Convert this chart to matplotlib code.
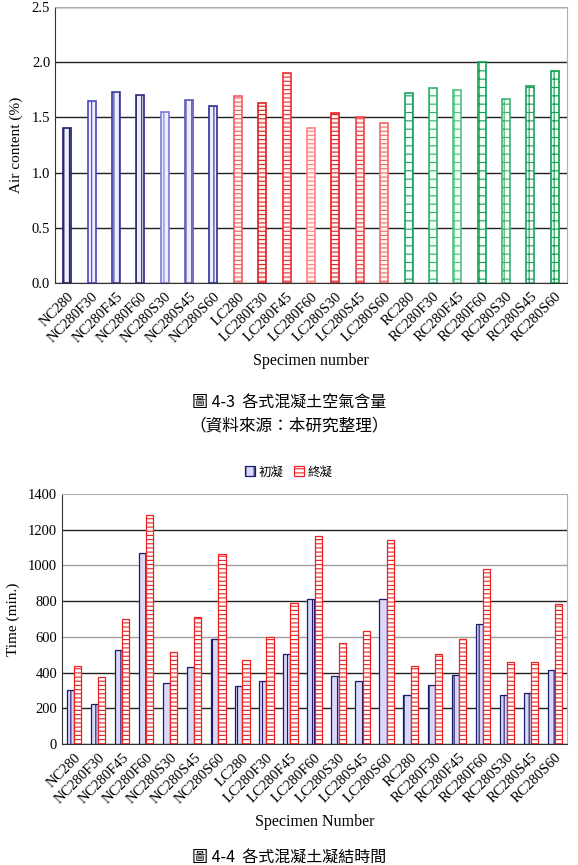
import numpy as np
import matplotlib
matplotlib.use("Agg")
import matplotlib.pyplot as plt

plt.rcParams['font.family'] = ['Liberation Serif', 'Noto Sans CJK TC']
plt.rcParams['hatch.linewidth'] = 0.8

specimens = ['NC280', 'NC280F30', 'NC280F45', 'NC280F60', 'NC280S30', 'NC280S45', 'NC280S60',
             'LC280', 'LC280F30', 'LC280F45', 'LC280F60', 'LC280S30', 'LC280S45', 'LC280S60',
             'RC280', 'RC280F30', 'RC280F45', 'RC280F60', 'RC280S30', 'RC280S45', 'RC280S60']

# 空氣含量 (%)
air = [1.40, 1.65, 1.73, 1.70, 1.55, 1.66, 1.60,
       1.69, 1.63, 1.90, 1.40, 1.54, 1.50, 1.45,
       1.72, 1.77, 1.75, 2.00, 1.67, 1.78, 1.92]

# 凝結時間 (min.)
initial_set = [300, 222, 528, 1070, 343, 431, 590,
               327, 351, 502, 812, 379, 351, 812,
               274, 329, 385, 670, 274, 284, 414]
final_set = [437, 373, 698, 1280, 515, 713, 1062,
             469, 601, 791, 1167, 564, 633, 1141,
             439, 504, 588, 982, 461, 457, 782]

W, H = 578, 865
fig = plt.figure(figsize=(W / 100, H / 100), dpi=100)


def px_axes(left, top, right, bottom):
    return fig.add_axes([left / W, 1 - bottom / H, (right - left) / W, (bottom - top) / H])


def frame(ax):
    ax.spines['top'].set_color('#b0b0b0')
    ax.spines['right'].set_color('#b0b0b0')
    ax.spines['left'].set_color('#333333')
    ax.spines['bottom'].set_color('#333333')
    ax.tick_params(length=0, labelsize=10.5)
    ax.tick_params(axis='x', pad=5)
    ax.set_axisbelow(True)


x = np.arange(len(specimens))

# ---- 圖 4-3 ----
ax1 = px_axes(55, 7, 567, 283)
frame(ax1)
group_style = {'NC': ('#eeeeff', ['#1c1c6a', '#4545c8', '#3a3a9a', '#2a2a80', '#7a7ad8', '#5a5ab8', '#30309a'], '|||'),
               'LC': ('#fff4f4', ['#f06060', '#e02020', '#e83030', '#ff8080', '#e02020', '#f04040', '#f06a6a'], '----'),
               'RC': ('#f4fff8', ['#20a060', '#30b070', '#50c080', '#10a050', '#40b070', '#20a060', '#10a050'], '++')}
for i, (name, v) in enumerate(zip(specimens, air)):
    fc, ecs, hatch = group_style[name[:2]]
    ax1.bar(x[i], v, width=0.33, color=fc, edgecolor=ecs[i % 7], hatch=hatch, linewidth=1.2)
ax1.set_ylim(0, 2.5)
ax1.set_xlim(-0.5, len(specimens) - 0.5)
ax1.set_yticks(np.arange(0, 2.51, 0.5))
ax1.set_yticklabels(['%.1f' % t for t in np.arange(0, 2.51, 0.5)])
ax1.yaxis.grid(True, color='#222222', linewidth=1)
ax1.set_xticks(x)
ax1.set_xticklabels(specimens, rotation=45, ha='right', rotation_mode='anchor', fontsize=10.5)
ax1.set_ylabel('Air content (%)', fontsize=11, labelpad=6)
ax1.set_xlabel('Specimen number', fontsize=11.5, labelpad=6)

fig.text(289 / W, 1 - 403 / H, '圖 4-3  各式混凝土空氣含量', ha='center', va='center',
         fontsize=11.5, family=['Noto Sans CJK TC'])
fig.text(289 / W, 1 - 426 / H, '（資料來源：本研究整理）', ha='center', va='center',
         fontsize=12, family=['Noto Sans CJK TC'])

# ---- 圖 4-4 ----
ax2 = px_axes(62, 494, 567, 744)
frame(ax2)
bw = 0.3
b1 = ax2.bar(x - bw / 2, initial_set, width=bw, color='#d8d8f8', edgecolor='#1c1c6a',
             hatch='||', linewidth=0.9, label='初凝')
b2 = ax2.bar(x + bw / 2, final_set, width=bw, color='white', edgecolor='#ee2222',
             hatch='----', linewidth=0.9, label='終凝')
ax2.set_ylim(0, 1400)
ax2.set_xlim(-0.5, len(specimens) - 0.5)
ax2.set_yticks(np.arange(0, 1401, 200))
ax2.yaxis.grid(True, color='#222222', linewidth=1)
for g, t in zip(ax2.get_ygridlines(), np.arange(0, 1401, 200)):
    if t in (600, 1000):
        g.set_color('#a0a0a0')
    if t == 1400:
        g.set_visible(False)
ax2.set_xticks(x)
ax2.set_xticklabels(specimens, rotation=45, ha='right', rotation_mode='anchor', fontsize=10.5)
ax2.set_ylabel('Time (min.)', fontsize=11, labelpad=6)
ax2.set_xlabel('Specimen Number', fontsize=11.5, labelpad=6)
fig.legend(handles=[b1, b2], loc='center', bbox_to_anchor=(289 / W, 1 - 472 / H), ncol=2,
           frameon=False, handlelength=0.8, handleheight=0.8,
           columnspacing=0.8, handletextpad=0.3, prop={'family': ['Noto Sans CJK TC'], 'size': 9})

fig.text(289 / W, 1 - 858 / H, '圖 4-4  各式混凝土凝結時間', ha='center', va='center',
         fontsize=11.5, family=['Noto Sans CJK TC'])

fig.savefig('out.png', dpi=100)
